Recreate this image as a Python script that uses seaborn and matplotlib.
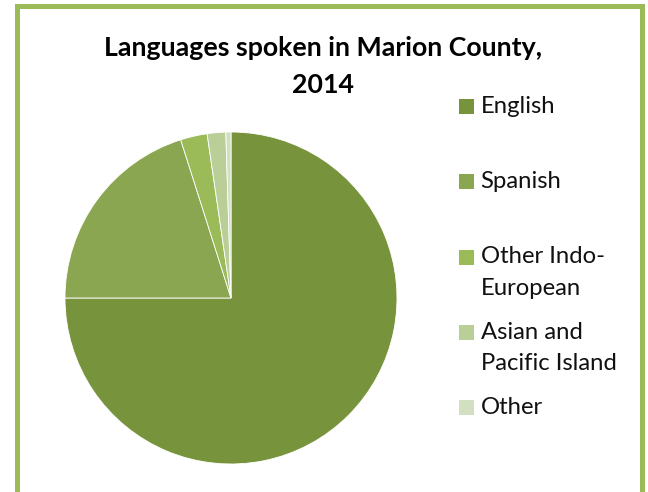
import matplotlib
matplotlib.use("Agg")
import seaborn as sns
import matplotlib.pyplot as plt
from matplotlib.lines import Line2D
from matplotlib.patches import Rectangle

# values (percent of population)
languages = ["English", "Spanish", "Other Indo-European",
             "Asian and Pacific Island", "Other"]
shares = [75.0, 20.1, 2.6, 1.8, 0.5]
legend_labels = ["English\n", "Spanish\n", "Other Indo-\nEuropean",
                 "Asian and\nPacific Island", "Other\n"]
slice_colors = ["#77933C", "#8BA650", "#9BBB59", "#BACF98", "#D2DFC0"]
title_lines = ["Languages spoken in Marion County,", "2014"]

sns.set_theme(style="white")
plt.rcParams["font.family"] = ["Lato", "DejaVu Sans"]

W, H = 648, 492
fig = plt.figure(figsize=(W / 100, H / 100), dpi=100)

# pie box in pixels: centre (231, 298), radius 166
cx, cy, r = 231, 298, 166
ax = fig.add_axes([(cx - r) / W, (H - cy - r) / H, 2 * r / W, 2 * r / H])
palette = sns.color_palette(slice_colors)
ax.pie(shares, colors=palette, startangle=90, counterclock=False,
       wedgeprops=dict(edgecolor="white", linewidth=0.6))
ax.set_xlim(-1, 1)
ax.set_ylim(-1, 1)
ax.set_aspect("auto")
ax.axis("off")

for i, line in enumerate(title_lines):
    fig.text(323 / W, 1 - (48 + 37 * i) / H, line, ha="center", va="center",
             fontsize=19.3, fontweight="bold", color="black")

handles = [Line2D([], [], marker="s", linestyle="", markersize=10.8,
                  markeredgewidth=0, color=c) for c in palette]
leg = fig.legend(handles, legend_labels, loc="upper left",
                 bbox_to_anchor=(458 / W, 1 - 96 / H), frameon=False,
                 fontsize=17.2, borderpad=0, borderaxespad=0,
                 handlelength=0.7, handleheight=1.2, handletextpad=0.25,
                 labelspacing=0.95)
for t in leg.get_texts():
    t.set_linespacing(1.62)
    t.set_color("#111111")
for col in leg._legend_handle_box.get_children():
    for row in col.get_children():
        row.align = "top"

# green frame round the chart
fig.patches.append(Rectangle((16.5 / W, -0.05), (641.5 - 16.5) / W, 1.05 - 5.5 / H,
                             transform=fig.transFigure, fill=False,
                             edgecolor="#9BBB59", linewidth=3.6))

fig.savefig("out.png", dpi=100)
